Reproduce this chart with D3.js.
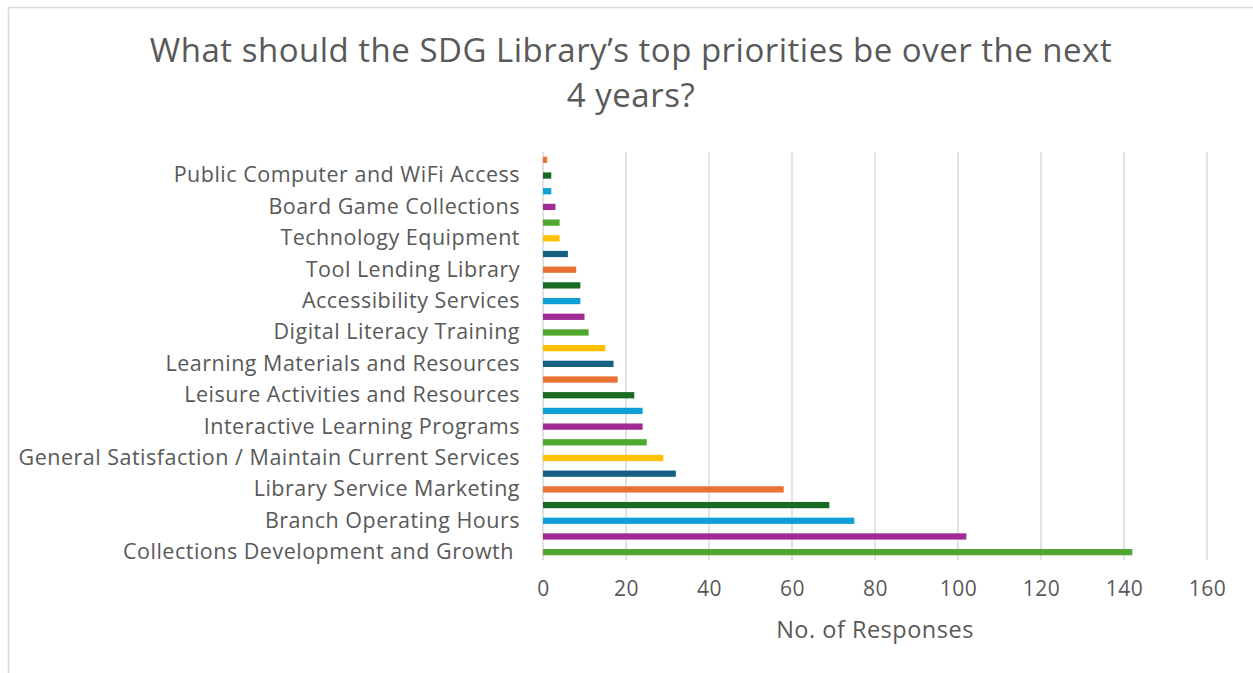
<!DOCTYPE html>
<html>
<head>
<meta charset="utf-8">
<script src="https://cdn.jsdelivr.net/npm/d3@7"></script>
<style>
  html, body { margin: 0; padding: 0; background: #ffffff; }
  svg { display: block; }
  text { font-family: "Open Sans", "Noto Sans", sans-serif; fill: #595959; letter-spacing: 0.5px; }
</style>
</head>
<body>
<svg id="chart" width="1253" height="673"></svg>
<script>
// Responses per priority, listed from the bottom bar upwards
const values = [142, 102, 75, 69, 58, 32, 29, 25, 24, 24, 22, 18, 17, 15, 11, 10, 9, 9, 8, 6, 4, 4, 3, 2, 2, 1];

// Category labels shown on the axis (every second category carries a label)
const tickLabels = [
  "Collections Development and Growth ", "",
  "Branch Operating Hours", "",
  "Library Service Marketing", "",
  "General Satisfaction / Maintain Current Services", "",
  "Interactive Learning Programs", "",
  "Leisure Activities and Resources", "",
  "Learning Materials and Resources", "",
  "Digital Literacy Training", "",
  "Accessibility Services", "",
  "Tool Lending Library", "",
  "Technology Equipment", "",
  "Board Game Collections", "",
  "Public Computer and WiFi Access", ""
];

const xTicks = [0, 20, 40, 60, 80, 100, 120, 140, 160];

// Bar colours, cycled from the bottom bar upwards
const palette = ["#4EA72E", "#A02B93", "#0F9ED5", "#196B24", "#E97132", "#156082", "#FFC000"];

const titleLines = ["What should the SDG Library\u2019s top priorities be over the next", "4 years?"];
const xTitle = "No. of Responses";

const svg = d3.select("#chart");

// chart frame (only top and left edges fall inside the view)
svg.append("rect")
  .attr("x", 8.5).attr("y", 7.5)
  .attr("width", 1260).attr("height", 700)
  .attr("fill", "#ffffff")
  .attr("stroke", "#d9d9d9").attr("stroke-width", 1.5);

const plot = { left: 543, right: 1207, top: 152, bottom: 560 };

const x = d3.scaleLinear().domain([0, 160]).range([plot.left, plot.right]);
const idx = d3.range(values.length);
const y = d3.scaleBand().domain(idx).range([plot.bottom, plot.top]).paddingInner(0.6).paddingOuter(0.3);

// vertical gridlines
svg.append("g")
  .selectAll("line")
  .data(xTicks)
  .join("line")
  .attr("x1", d => x(d)).attr("x2", d => x(d))
  .attr("y1", plot.top).attr("y2", plot.bottom)
  .attr("stroke", "#d9d9d9").attr("stroke-width", 1.5);

// bars
svg.append("g")
  .selectAll("rect")
  .data(values)
  .join("rect")
  .attr("x", x(0))
  .attr("y", (d, i) => y(i))
  .attr("width", d => x(d) - x(0))
  .attr("height", y.bandwidth())
  .attr("fill", (d, i) => palette[i % palette.length]);

// category axis labels
const yAxis = d3.axisLeft(y)
  .tickSize(0)
  .tickPadding(23)
  .tickFormat(i => tickLabels[i]);
const gy = svg.append("g").attr("transform", `translate(${plot.left},0)`).call(yAxis);
gy.select(".domain").remove();
gy.selectAll("text")
  .attr("font-size", 21.5)
  .attr("fill", "#595959")
  .style("white-space", "pre")
  .attr("font-family", null);

// value axis labels
const xAxis = d3.axisBottom(x).tickValues(xTicks).tickSize(0).tickPadding(21);
const gx = svg.append("g").attr("transform", `translate(0,${plot.bottom})`).call(xAxis);
gx.select(".domain").remove();
gx.selectAll("text")
  .attr("font-size", 21)
  .attr("fill", "#595959")
  .attr("font-family", null);

// axis title
svg.append("text")
  .attr("x", 875)
  .attr("y", 638)
  .attr("text-anchor", "middle")
  .attr("font-size", 23.5)
  .text(xTitle);

// chart title
svg.append("g")
  .selectAll("text")
  .data(titleLines)
  .join("text")
  .attr("x", 631)
  .attr("y", (d, i) => 62 + i * 45)
  .attr("text-anchor", "middle")
  .attr("font-size", 33)
  .text(d => d);
</script>
</body>
</html>
